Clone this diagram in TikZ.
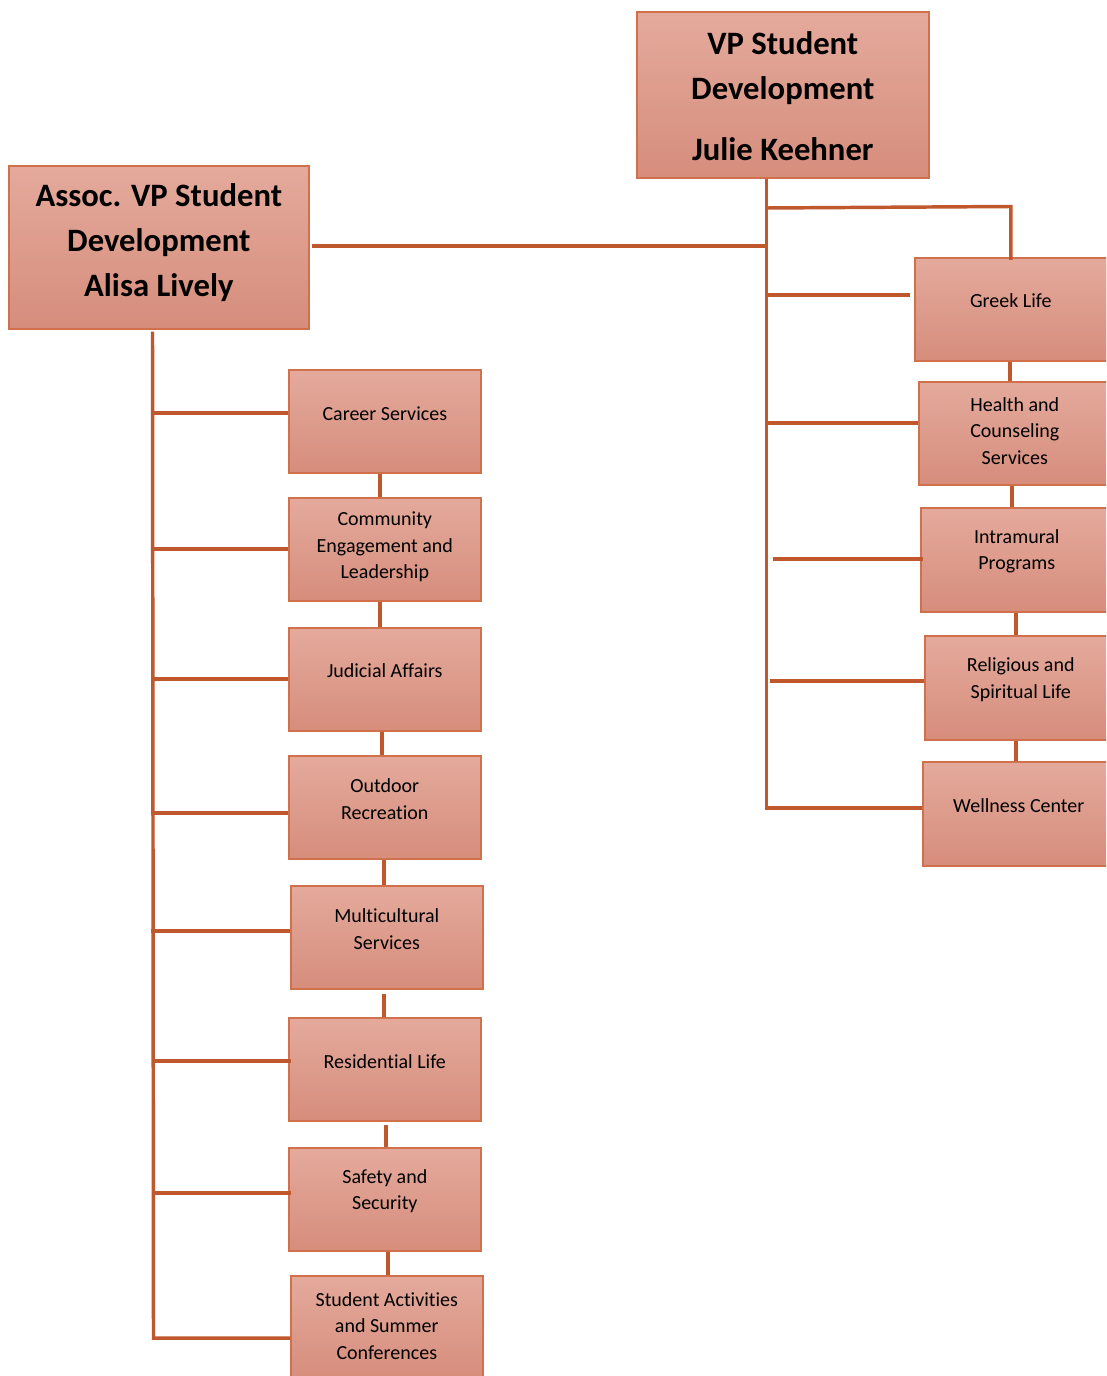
\documentclass[tikz,border=0pt]{standalone}
\usepackage{fontspec}
\setmainfont{Carlito}[Ligatures=NoCommon]
\usetikzlibrary{calc}
\definecolor{linec}{HTML}{C0582E}
\definecolor{boxb}{HTML}{D0714B}
\definecolor{boxtop}{HTML}{E4AA9C}
\definecolor{boxbot}{HTML}{D68D7C}
\begin{document}
\begin{tikzpicture}[x=0.75pt,y=-0.75pt,
  box/.style={draw=boxb, line width=1.2pt, top color=boxtop, bottom color=boxbot,
    anchor=north west, inner sep=0pt, minimum width=144pt, minimum height=77.25pt},
  bigbox/.style={box},
  txt/.style={align=center, inner sep=0pt, text=black, font=\fontsize{15}{20}\selectfont},
  bigtxt/.style={align=center, inner sep=0pt, text=black, font=\fontsize{24.5}{33.75}\selectfont\bfseries},
  conn/.style={draw=linec, line width=2.6pt}]
\useasboundingbox (0,0) rectangle (1106,1376);
\clip (0,0) rectangle (1106,1376);

% top boxes
\node[bigbox, minimum width=219pt, minimum height=124.5pt] (vp) at (636,11) {};
\node[bigtxt] (vp-t) at ($(vp.center)+(0,1)$) {VP Student\\Development\\[12pt]Julie Keehner};
\node[bigbox, minimum width=225pt, minimum height=122.25pt] (av) at (8,165) {};
\node[bigtxt] (av-t) at ($(av.center)+(0,-5)$) {Assoc. VP Student\\Development\\Alisa Lively};

% left column
\node[box] (cs) at (288,369) {};
\node[txt] (cs-t) at ($(cs.center)+(0,-7.5)$) {Career Services};
\node[box] (ce) at (288,497) {};
\node[txt] (ce-t) at ($(ce.center)+(0,-2.5)$) {Community\\Engagement and\\Leadership};
\node[box] (ja) at (288,627) {};
\node[txt] (ja-t) at ($(ja.center)+(0,-8.5)$) {Judicial Affairs};
\node[box] (or) at (288,755) {};
\node[txt] (or-t) at ($(or.center)+(0,-8.5)$) {Outdoor\\Recreation};
\node[box] (ms) at (290,885) {};
\node[txt] (ms-t) at ($(ms.center)+(0,-8.5)$) {Multicultural\\Services};
\node[box] (rl) at (288,1017) {};
\node[txt] (rl-t) at ($(rl.center)+(0,-7.5)$) {Residential Life};
\node[box] (ss) at (288,1147) {};
\node[txt] (ss-t) at ($(ss.center)+(0,-8)$) {Safety and\\Security};
\node[box] (sa) at (290,1275) {};
\node[txt] (sa-t) at ($(sa.center)+(0,-1.5)$) {Student Activities\\and Summer\\Conferences};

% right column
\node[box] (gl) at (914,257) {};
\node[txt] (gl-t) at ($(gl.center)+(0,-8.5)$) {Greek Life};
\node[box] (hc) at (918,381) {};
\node[txt] (hc-t) at ($(hc.center)+(0,-2.5)$) {Health and\\Counseling\\Services};
\node[box, minimum height=78pt] (im) at (920,507) {};
\node[txt] (im-t) at ($(im.center)+(0,-8.5)$) {Intramural\\Programs};
\node[box, minimum height=78pt] (rs) at (924,635) {};
\node[txt] (rs-t) at ($(rs.center)+(0,-8)$) {Religious and\\Spiritual Life};
\node[box, minimum height=78pt] (wc) at (922,761) {};
\node[txt] (wc-t) at ($(wc.center)+(0,-8)$) {Wellness Center};

% trunk coordinates
\coordinate (lt) at (153.5,0);
\coordinate (rt) at (766.5,0);

% left trunk and branches
\draw[conn] ($(av.south -| lt)+(-1,2)$) -- (lt |- 0,1338) -- (sa.west |- 0,1338);
\draw[conn] (lt |- 0,413) -- (cs.west |- 0,413);
\draw[conn] (lt |- 0,549) -- (ce.west |- 0,549);
\draw[conn] ($(lt |- 0,679)+(-3,0)$) -- (ja.west |- 0,679);
\draw[conn] (lt |- 0,813) -- (or.west |- 0,813);
\draw[conn] ($(lt |- 0,931)+(-3,0)$) -- (ms.west |- 0,931);
\draw[conn] (lt |- 0,1061) -- ($(rl.west |- 0,1061)+(3,0)$);
\draw[conn] (lt |- 0,1193) -- ($(ss.west |- 0,1193)+(3,0)$);

% left chain
\draw[conn] (cs.south -| 380,0) -- (ce.north -| 380,0);
\draw[conn] (ce.south -| 380,0) -- (ja.north -| 380,0);
\draw[conn] (ja.south -| 382,0) -- (or.north -| 382,0);
\draw[conn] (or.south -| 384,0) -- (ms.north -| 384,0);
\draw[conn] ($(ms.south -| 384,0)+(0,4)$) -- (rl.north -| 384,0);
\draw[conn] ($(rl.south -| 386,0)+(0,3)$) -- (ss.north -| 386,0);
\draw[conn] (ss.south -| 388,0) -- (sa.north -| 388,0);

% right trunk and branches
\draw[conn] (vp.south -| rt) -- (rt |- 0,808) -- (wc.west |- 0,808);
\draw[conn] (rt |- 0,208) -- (gl.north |- 0,206.5) -- ($(gl.north)+(0,3)$);
\draw[conn] ($(av.east |- 0,246)+(2,0)$) -- (rt |- 0,246);
\draw[conn] (rt |- 0,295) -- ($(gl.west |- 0,295)+(-4,0)$);
\draw[conn] (rt |- 0,423) -- (hc.west |- 0,423);
\draw[conn] ($(rt |- 0,559)+(6,0)$) -- ($(im.west |- 0,559)+(3,0)$);
\draw[conn] ($(rt |- 0,681)+(3,0)$) -- (rs.west |- 0,681);

% right chain
\draw[conn] (gl.south -| 1010,0) -- (hc.north -| 1010,0);
\draw[conn] (hc.south -| 1012,0) -- (im.north -| 1012,0);
\draw[conn] (im.south -| 1016,0) -- (rs.north -| 1016,0);
\draw[conn] (rs.south -| 1016,0) -- (wc.north -| 1016,0);
\end{tikzpicture}
\end{document}
